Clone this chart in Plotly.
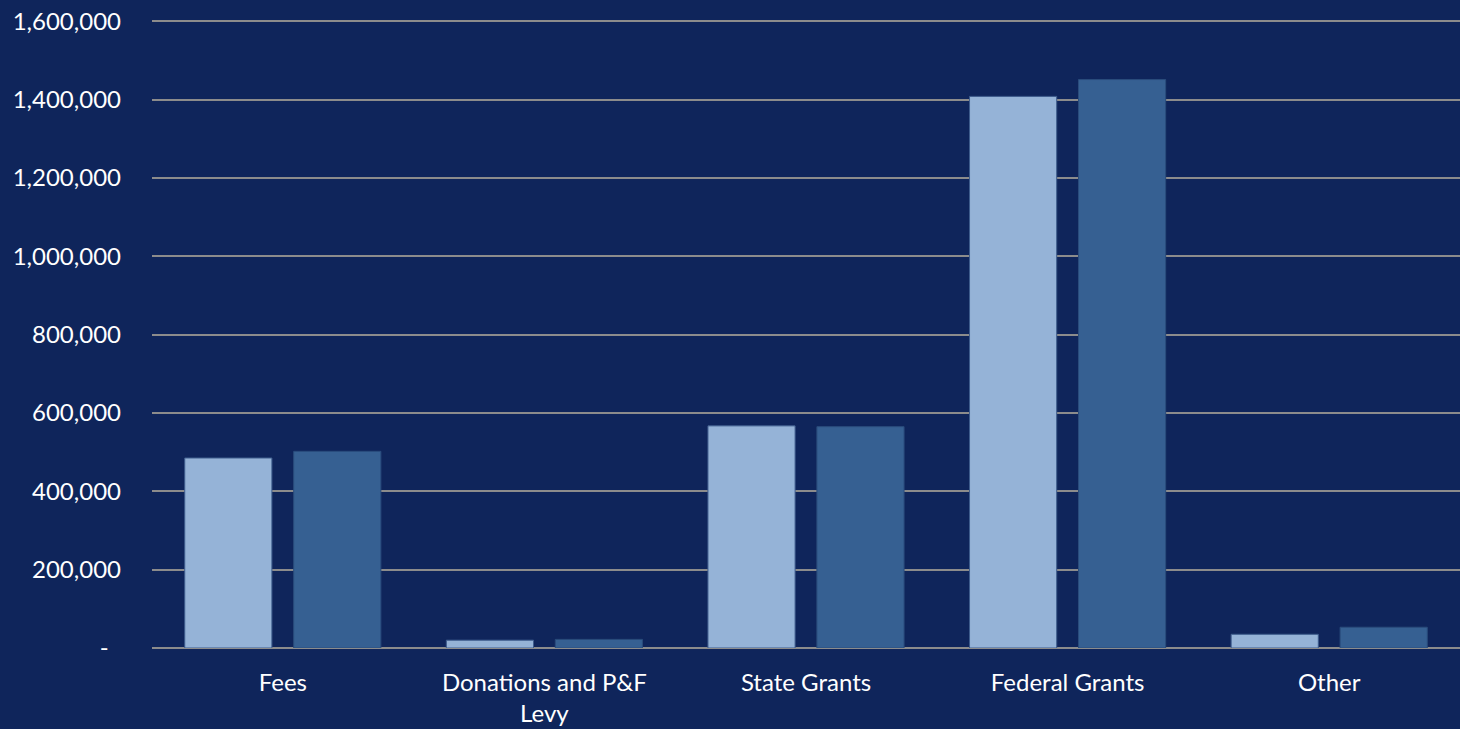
import plotly.graph_objects as go

categories = ["Fees", "Donations and P&F<br>Levy", "State Grants", "Federal Grants", "Other"]
series_a_name = "Prior Year"
series_a = [485000, 20000, 567000, 1408000, 35000]
series_b_name = "Current Year"
series_b = [502000, 22000, 565000, 1451000, 53000]
tick_vals = [0, 200000, 400000, 600000, 800000, 1000000, 1200000, 1400000, 1600000]
tick_text = ["-\u00a0\u00a0", "200,000", "400,000", "600,000", "800,000", "1,000,000", "1,200,000", "1,400,000", "1,600,000"]

BG = "#0F255B"
FONT = dict(family="Lato, 'Open Sans', sans-serif", size=24, color="#FFFFFF")

fig = go.Figure()
fig.add_trace(go.Bar(x=categories, y=series_a, name=series_a_name,
                     marker=dict(color="#95B3D7", line=dict(width=1, color="#3E5C8C"))))
fig.add_trace(go.Bar(x=categories, y=series_b, name=series_b_name,
                     marker=dict(color="#366092", line=dict(width=1, color="#2A4C7C"))))

fig.update_layout(
    width=1460, height=729,
    paper_bgcolor=BG, plot_bgcolor=BG,
    margin=dict(l=152, r=0, t=20, b=81),
    barmode="group", bargap=0.167, bargroupgap=0.2,
    showlegend=False,
    font=FONT,
)
fig.update_xaxes(showgrid=False, showline=False, ticks="", tickfont=FONT,
                 ticklabelstandoff=18)
fig.update_yaxes(range=[0, 1603000], tickvals=tick_vals, ticktext=tick_text,
                 showgrid=True, gridcolor="#8C8C8C", gridwidth=1.5,
                 zeroline=True, zerolinecolor="#8C8C8C", zerolinewidth=2,
                 showline=False, ticks="", tickfont=FONT, ticklabelstandoff=30)

fig.write_html("out.html",
               config={"displayModeBar": False},
               post_script="document.body.style.margin='0';document.body.style.overflow='hidden';")
